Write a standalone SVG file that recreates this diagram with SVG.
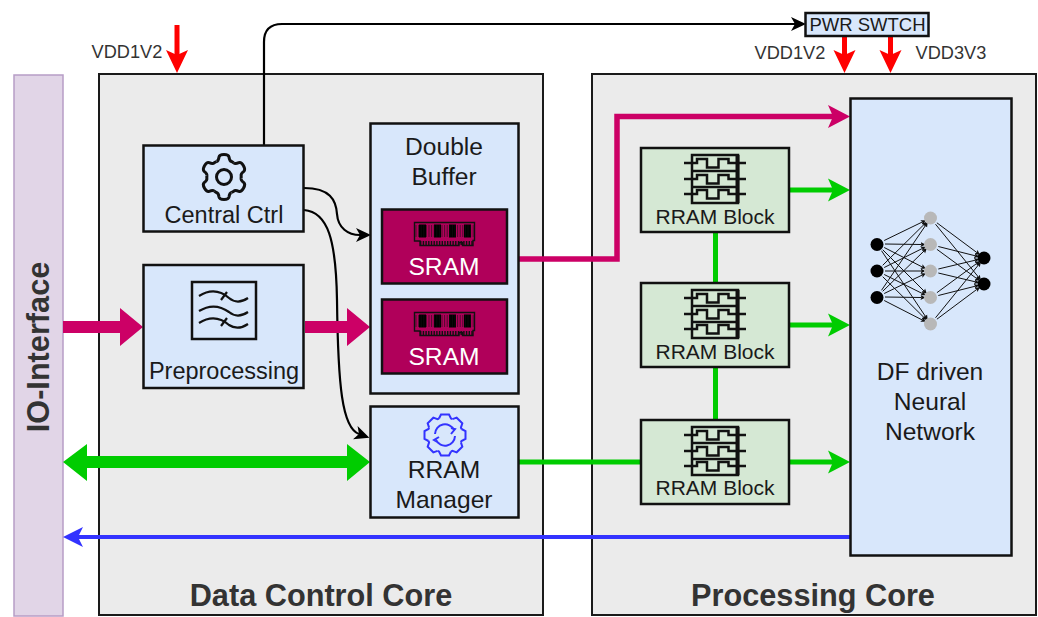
<svg xmlns="http://www.w3.org/2000/svg" xmlns:xlink="http://www.w3.org/1999/xlink" width="1038" height="617" viewBox="0 0 1038 617">
<style>
text{font-family:"Liberation Sans",Arial,sans-serif;text-anchor:middle;fill:#1a1a1a}
.core{fill:#ebebeb;stroke:#1a1a1a;stroke-width:2}
.blue{fill:#d8e7fb;stroke:#111;stroke-width:2.5}
.green{fill:#d5e8d4;stroke:#111;stroke-width:2.5}
.sram{fill:#b0005a;stroke:#111;stroke-width:2.5}
.t23{font-size:23.5px}
.t24{font-size:24.6px}
.t20{font-size:21px}
.title{font-size:30.7px;font-weight:bold;fill:#333}
.vdd{font-size:18.2px;fill:#333}
.w{fill:#fff}
.ln{fill:none;stroke-linecap:butt}
.pink{stroke:#cc0066;stroke-width:5.5}
.grn{stroke:#00cc00;stroke-width:5}
.blk{stroke:#000;stroke-width:2.2}
.red{stroke:#ff0000;stroke-width:5}
.nn line{stroke:#111;stroke-width:1;marker-end:url(#mN)}
.ic{fill:none;stroke:#111;stroke-width:2.2;stroke-linejoin:round}
</style>
<defs>
<marker id="mP" markerUnits="userSpaceOnUse" markerWidth="24" markerHeight="24" refX="5" refY="12" orient="auto" viewBox="0 0 24 24"><path d="M0 0.5L22 12L0 23.5L5 12Z" fill="#cc0066"/></marker>
<marker id="mG" markerUnits="userSpaceOnUse" markerWidth="24" markerHeight="24" refX="5" refY="12" orient="auto" viewBox="0 0 24 24"><path d="M0 0.500L22 12L0 23.500L5 12Z" fill="#00cc00"/></marker>
<marker id="mB" markerUnits="userSpaceOnUse" markerWidth="24" markerHeight="24" refX="5" refY="12" orient="auto" viewBox="0 0 24 24"><path d="M0 2L20 12L0 22L5 12Z" fill="#3333ff"/></marker>
<marker id="mK" markerUnits="userSpaceOnUse" markerWidth="16" markerHeight="16" refX="4" refY="8" orient="auto" viewBox="0 0 16 16"><path d="M0 1L15 8L0 15L4 8Z" fill="#000"/></marker>
<marker id="mR" markerUnits="userSpaceOnUse" markerWidth="24" markerHeight="24" refX="5" refY="12" orient="auto" viewBox="0 0 24 24"><path d="M0 1L23 12L0 23L5 12Z" fill="#ff0000"/></marker>
<marker id="mN" markerUnits="userSpaceOnUse" markerWidth="6" markerHeight="6" refX="1" refY="3" orient="auto" viewBox="0 0 6 6"><path d="M0 0.5L5 3L0 5.5L1 3Z" fill="#111"/></marker>
<path id="tooth" d="M-7.5 -15.5Q-5.5 -16 -5 -20Q-4.5 -22.5 0 -22.5Q4.5 -22.5 5 -20Q5.5 -16 7.5 -15.5L9.67 -14.25" fill="none" stroke="#111" stroke-width="3"/>
<path id="btooth" d="M-6 -16.5L-4 -20.500L4 -20.500L6 -16.500L7.420 -15.900" fill="none" stroke="#3333ff" stroke-width="2"/>
<g id="mem">
<path d="M414.500 222.500H474.500V240.500H473V245.500H462.500V242.500H459V245.500H420V241H414.500Z" fill="#b0005a" stroke="#111" stroke-width="1.4"/>
<path d="M419 224.500H426V237.500H419ZM434 224.500H441V237.500H434ZM449 224.500H456V237.500H449ZM464 224.500H471V237.500H464Z" fill="#000"/>
<path d="M415.500 231H473.500" stroke="#111" stroke-width="12" stroke-dasharray="1 1.6" fill="none" opacity=".6"/>
<path d="M420 243H473" stroke="#111" stroke-width="4" stroke-dasharray="1.4 1.3" fill="none"/>
</g>
<g id="rram">
<rect x="692" y="155" width="46" height="48" fill="none" stroke="#111" stroke-width="2.500"/>
<path d="M737.500 155V203" stroke="#111" stroke-width="4"/>
<path d="M692 171H738M692 187H738" stroke="#111" stroke-width="2.500"/>
<g fill="none" stroke="#111" stroke-width="2.500">
<path id="rw" d="M684 163H697V159H707V167.500H718.500V159H728.500V163H746"/>
<use xlink:href="#rw" href="#rw" y="16"/>
<use xlink:href="#rw" href="#rw" y="31"/>
</g>
</g>
</defs>

<rect id="canvas-bg" width="1038" height="617" fill="#fff"/>

<g id="io-interface">
<rect x="14" y="75" width="49" height="541" fill="#e1d5e7" stroke="#b79dc6" stroke-width="1.500"/>
<text class="title" transform="translate(49,347) rotate(-90)">IO-Interface</text>
</g>
<g id="data-control-core">
<rect class="core" x="99" y="74" width="444" height="541"/>
<text class="title" x="321" y="606">Data Control Core</text>
</g>
<g id="processing-core">
<rect class="core" x="592" y="74" width="444" height="541"/>
<text class="title" x="813" y="606">Processing Core</text>
</g>

<g id="connectors">
<path class="ln blk" d="M264 145V42Q264 24 282 24H795" marker-end="url(#mK)"/>
<path class="ln blk" d="M304 188C330 188 336 200 337 214C338 228 348 235 360 235" marker-end="url(#mK)"/>
<path class="ln blk" d="M304 210C328 212 336 240 337 300C338 385 342 428 359 434" marker-end="url(#mK)"/>
<path class="ln pink" d="M519 259H617V116.500H833" marker-end="url(#mP)"/>
<path class="ln grn" d="M789 190H833" marker-end="url(#mG)"/>
<path class="ln grn" d="M789 325H833" marker-end="url(#mG)"/>
<path class="ln grn" d="M789 462H833" marker-end="url(#mG)"/>
<path class="ln grn" d="M715.500 232V283M715.500 367V420M518 462H641"/>
<path class="ln" stroke="#3333ff" stroke-width="4" d="M850 537H78" marker-end="url(#mB)"/>
<path class="ln red" d="M177 25V55" marker-end="url(#mR)"/>
<path class="ln red" d="M844.500 37V55" marker-end="url(#mR)"/>
<path class="ln red" d="M890.500 37V55" marker-end="url(#mR)"/>
<polygon fill="#cc0066" points="63,321 120,321 120,308 143,327 120,346 120,333 63,333"/>
<polygon fill="#cc0066" points="305,321 347,321 347,308 370,327 347,346 347,333 305,333"/>
<polygon fill="#00cc00" points="63,462 87,444 87,456 347,456 347,444 370,462 347,481 347,468 87,468 87,481"/>
</g>

<g id="central-ctrl">
<rect class="blue" x="143.500" y="145.500" width="160" height="86"/>
<g transform="translate(224,177)">
<use xlink:href="#tooth" href="#tooth"/><use xlink:href="#tooth" href="#tooth" transform="rotate(60)"/><use xlink:href="#tooth" href="#tooth" transform="rotate(120)"/><use xlink:href="#tooth" href="#tooth" transform="rotate(180)"/><use xlink:href="#tooth" href="#tooth" transform="rotate(240)"/><use xlink:href="#tooth" href="#tooth" transform="rotate(300)"/>
<circle r="7.500" fill="none" stroke="#111" stroke-width="3"/>
</g>
<text class="t23" x="224" y="223">Central Ctrl</text>
</g>

<g id="preprocessing">
<rect class="blue" x="143.500" y="265" width="160" height="123"/>
<rect x="192" y="282" width="64" height="57" fill="none" stroke="#111" stroke-width="2.500"/>
<g class="ic">
<path d="M199 296C212 288 222 292 229 298C235 303 242 302 248 298"/>
<path d="M199 311C212 303 222 307 229 312C235 317 242 316 248 312"/>
<path d="M199 323C212 315 222 319 229 325C235 329 242 328 248 324"/>
<path d="M221 300L227 292M221 326L227 318"/>
</g>
<text class="t23" x="224" y="379">Preprocessing</text>
</g>

<g id="double-buffer">
<rect class="blue" x="370.500" y="123.500" width="148" height="270"/>
<text class="t24" x="444" y="155">Double</text>
<text class="t24" x="444" y="185">Buffer</text>
</g>
<g id="sram-1">
<rect class="sram" x="382" y="209.500" width="125" height="74"/>
<use xlink:href="#mem" href="#mem"/>
<text class="t24 w" x="444" y="275">SRAM</text>
</g>
<g id="sram-2">
<rect class="sram" x="382" y="299.500" width="125" height="74"/>
<use xlink:href="#mem" href="#mem" y="90"/>
<text class="t24 w" x="444" y="365">SRAM</text>
</g>

<g id="rram-manager">
<rect class="blue" x="370.500" y="406.500" width="148" height="111"/>
<g transform="translate(445,435)">
<use xlink:href="#btooth" href="#btooth"/><use xlink:href="#btooth" href="#btooth" transform="rotate(45)"/><use xlink:href="#btooth" href="#btooth" transform="rotate(90)"/><use xlink:href="#btooth" href="#btooth" transform="rotate(135)"/><use xlink:href="#btooth" href="#btooth" transform="rotate(180)"/><use xlink:href="#btooth" href="#btooth" transform="rotate(225)"/><use xlink:href="#btooth" href="#btooth" transform="rotate(270)"/><use xlink:href="#btooth" href="#btooth" transform="rotate(315)"/>
<path d="M-10 -1A10 10 0 0 1 9 -5M6 -1L10 -6L6 -7M10 1A10 10 0 0 1 -9 5M-6 2L-11 5L-6 8" fill="none" stroke="#3333ff" stroke-width="2"/>
</g>
<text class="t24" x="444" y="478">RRAM</text>
<text class="t24" x="444" y="508">Manager</text>
</g>

<g id="rram-block-1">
<rect class="green" x="641" y="148" width="148" height="84"/>
<use xlink:href="#rram" href="#rram"/>
<text class="t20" x="715" y="224">RRAM Block</text>
</g>
<g id="rram-block-2">
<rect class="green" x="641" y="283" width="148" height="84"/>
<use xlink:href="#rram" href="#rram" y="135"/>
<text class="t20" x="715" y="359">RRAM Block</text>
</g>
<g id="rram-block-3">
<rect class="green" x="641" y="420" width="148" height="84"/>
<use xlink:href="#rram" href="#rram" y="272"/>
<text class="t20" x="715" y="495">RRAM Block</text>
</g>

<g id="df-network">
<rect class="blue" x="850.500" y="98.500" width="161" height="457"/>
<g class="nn">
<line x1="884.200" y1="240.500" x2="922.300" y2="222"/>
<line x1="885" y1="244" x2="921.500" y2="244.500"/>
<line x1="884.200" y1="247.500" x2="922.300" y2="267"/>
<line x1="882.700" y1="249.700" x2="924" y2="291"/>
<line x1="881.500" y1="250.700" x2="925.500" y2="316.500"/>
<line x1="882.700" y1="265.300" x2="924" y2="224.500"/>
<line x1="884.200" y1="267.500" x2="922.300" y2="248.500"/>
<line x1="885" y1="271" x2="921.500" y2="271"/>
<line x1="884.200" y1="274.500" x2="922.300" y2="293.500"/>
<line x1="882.700" y1="276.700" x2="924" y2="317.500"/>
<line x1="881.500" y1="290.300" x2="925.500" y2="225.500"/>
<line x1="882.700" y1="291.300" x2="924" y2="251"/>
<line x1="884.200" y1="293.500" x2="922.300" y2="275"/>
<line x1="885" y1="297" x2="921.500" y2="297.500"/>
<line x1="884.200" y1="300.500" x2="922.300" y2="320"/>
<line x1="936.900" y1="222.800" x2="976.800" y2="252.500"/>
<line x1="935.500" y1="224.200" x2="978.400" y2="277"/>
<line x1="938.300" y1="246.500" x2="975.300" y2="255.800"/>
<line x1="936.900" y1="249.300" x2="976.800" y2="278.600"/>
<line x1="938.300" y1="269" x2="975.300" y2="260.200"/>
<line x1="938.300" y1="273" x2="975.300" y2="281.800"/>
<line x1="936.900" y1="292.700" x2="976.800" y2="263.400"/>
<line x1="938.300" y1="295.500" x2="975.300" y2="286.200"/>
<line x1="935.500" y1="317.800" x2="978.400" y2="265"/>
<line x1="936.900" y1="319.200" x2="976.800" y2="289.400"/>
</g>
<g fill="#000">
<circle cx="877" cy="244.500" r="6.500"/><circle cx="877" cy="271" r="6.500"/><circle cx="877" cy="297.500" r="6.500"/>
<circle cx="984" cy="258" r="6.500"/><circle cx="984" cy="284" r="6.500"/>
</g>
<g fill="#b8b8b8">
<circle cx="930.500" cy="218" r="6.500"/><circle cx="930.500" cy="244.500" r="6.500"/><circle cx="930.500" cy="271" r="6.500"/><circle cx="930.500" cy="297.500" r="6.500"/><circle cx="930.500" cy="324" r="6.500"/>
</g>
<text class="t24" x="930" y="380">DF driven</text>
<text class="t24" x="930" y="410">Neural</text>
<text class="t24" x="930" y="440">Network</text>
</g>

<g id="pwr-switch">
<rect class="blue" x="805.500" y="13" width="123" height="23"/>
<text x="867.500" y="31" font-size="18.500">PWR SWTCH</text>
</g>

<g id="supply-labels">
<text class="vdd" x="127" y="57.500">VDD1V2</text>
<text class="vdd" x="790" y="59">VDD1V2</text>
<text class="vdd" x="951" y="59">VDD3V3</text>
</g>
</svg>
